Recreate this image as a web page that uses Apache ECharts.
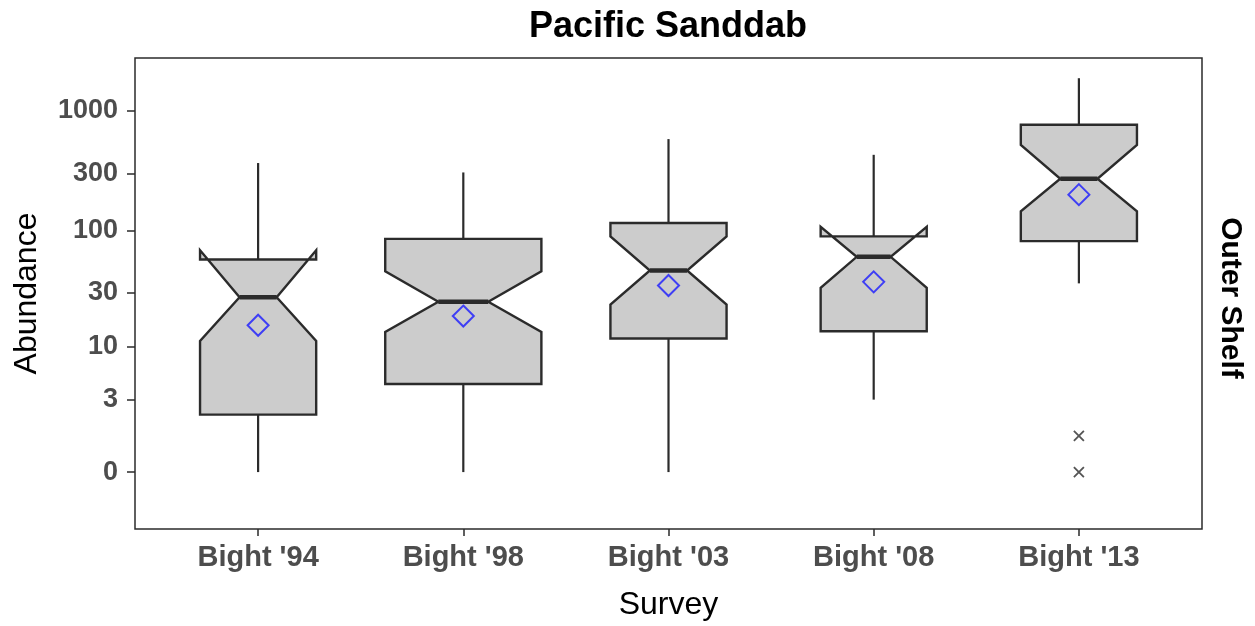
<!DOCTYPE html>
<html><head><meta charset="utf-8">
<script src="https://cdn.jsdelivr.net/npm/echarts@6/dist/echarts.min.js"></script>
<style>html,body{margin:0;padding:0;background:#fff}#c{width:1255px;height:626px}</style>
</head><body><div id="c"></div>
<script>
// ---- data (abundance, original units; axis is log10(x+1)) ----
const surveys = ["Bight '94", "Bight '98", "Bight '03", "Bight '08", "Bight '13"];
const whiskerLow = [0, 0, 0, 3, 36];
const q1 = [2.0, 4.4, 11.9, 13.8, 82];
const notchLow = [11.3, 13.6, 23.7, 33, 146];
const median = [27.4, 25, 46.3, 60.5, 273];
const notchHigh = [68.7, 45.7, 90, 108, 523];
const q3 = [57.4, 85.7, 116.6, 90, 768];
const whiskerHigh = [369, 308, 584, 432, 1874];
const means = [15.6, 18.8, 34.5, 37.1, 201];
const relBoxWidth = [0.566, 0.761, 0.566, 0.517, 0.566]; // variable width (sample size)
const outlierSurvey = [5, 5];
const outlierValue = [1, 0];
const yTickLabels = [0, 3, 10, 30, 100, 300, 1000];

const tf = v => Math.log10(v + 1);
const yTickVals = yTickLabels.map(tf);
const xTickVals = surveys.map((s, i) => i + 1);

const boxData = surveys.map((s, i) => [i + 1, tf(whiskerLow[i]), tf(q1[i]), tf(notchLow[i]), tf(median[i]),
  tf(notchHigh[i]), tf(q3[i]), tf(whiskerHigh[i]), relBoxWidth[i]]);
const meanData = surveys.map((s, i) => [i + 1, tf(means[i])]);
const outData = outlierSurvey.map((s, i) => [s, tf(outlierValue[i])]);

const STROKE = '#2b2b2b';
const chart = echarts.init(document.getElementById('c'), null, {renderer: 'canvas'});
chart.setOption({
  backgroundColor: '#ffffff',
  animation: false,
  grid: {left: 135, right: 53, top: 58, bottom: 96, show: true, borderColor: STROKE, borderWidth: 1.5, backgroundColor: '#fff'},
  xAxis: {
    type: 'value', min: 0.4, max: 5.6,
    name: 'Survey', nameLocation: 'middle', nameGap: 60,
    nameTextStyle: {fontSize: 32, color: '#000', fontFamily: 'Liberation Sans'},
    axisLine: {show: false, onZero: false},
    splitLine: {show: false},
    axisTick: {show: true, customValues: xTickVals, length: 7, lineStyle: {color: STROKE, width: 1.5}},
    axisLabel: {customValues: xTickVals, formatter: v => surveys[Math.round(v) - 1] || '',
      fontSize: 29, fontWeight: 'bold', color: '#4D4D4D', fontFamily: 'Liberation Sans', margin: 14}
  },
  yAxis: {
    type: 'value', min: -0.473, max: 3.441,
    name: 'Abundance', nameLocation: 'middle', nameGap: 92,
    nameTextStyle: {fontSize: 32, color: '#000', fontFamily: 'Liberation Sans'},
    axisLine: {show: false, onZero: false},
    splitLine: {show: false},
    axisTick: {show: true, customValues: yTickVals, length: 8, lineStyle: {color: STROKE, width: 1.5}},
    axisLabel: {customValues: yTickVals, formatter: v => {
        const i = yTickVals.findIndex(t => Math.abs(t - v) < 1e-6);
        return i >= 0 ? String(yTickLabels[i]) : '';
      },
      fontSize: 27, fontWeight: 'bold', color: '#4D4D4D', fontFamily: 'Liberation Sans', margin: 17}
  },
  graphic: [
    {type: 'text', x: 668, y: 27, style: {text: 'Pacific Sanddab', fontSize: 36, fontWeight: 'bold',
      fontFamily: 'Liberation Sans', fill: '#000', align: 'center', verticalAlign: 'middle'}},
    {type: 'text', x: 1230, y: 298, rotation: -Math.PI / 2, style: {text: 'Outer Shelf', fontSize: 30, fontWeight: 'bold',
      fontFamily: 'Liberation Sans', fill: '#000', align: 'center', verticalAlign: 'middle'}}
  ],
  series: [
    {
      type: 'custom', data: boxData, z: 2,
      renderItem: (params, api) => {
        const x = api.value(0);
        const cx = api.coord([x, 0])[0];
        const hw = api.size([api.value(8), 0])[0] / 2;
        const nw = hw * 0.32;
        const y = k => api.coord([x, api.value(k)])[1];
        const yWL = y(1), yQ1 = y(2), yNL = y(3), yMed = y(4), yNU = y(5), yQ3 = y(6), yWH = y(7);
        const pts = [[cx - hw, yQ3], [cx - hw, yNU], [cx - nw, yMed], [cx - hw, yNL], [cx - hw, yQ1],
          [cx + hw, yQ1], [cx + hw, yNL], [cx + nw, yMed], [cx + hw, yNU], [cx + hw, yQ3]];
        return {type: 'group', children: [
          {type: 'line', shape: {x1: cx, y1: yQ3, x2: cx, y2: yWH}, style: {stroke: STROKE, lineWidth: 2.2}},
          {type: 'line', shape: {x1: cx, y1: yQ1, x2: cx, y2: yWL}, style: {stroke: STROKE, lineWidth: 2.2}},
          {type: 'polygon', shape: {points: pts}, style: {fill: '#CCCCCC', stroke: STROKE, lineWidth: 2.4, lineJoin: 'miter'}},
          {type: 'line', shape: {x1: cx - nw, y1: yMed, x2: cx + nw, y2: yMed}, style: {stroke: STROKE, lineWidth: 4.5}}
        ]};
      }
    },
    {
      type: 'scatter', data: meanData, z: 5, symbol: 'diamond', symbolSize: 21,
      itemStyle: {color: 'transparent', borderColor: '#1a1aff', borderWidth: 2}
    },
    {
      type: 'scatter', data: outData, z: 5, symbol: 'path://M0,0L10,10M10,0L0,10', symbolSize: 10,
      itemStyle: {color: 'transparent', borderColor: STROKE, borderWidth: 1.8}
    }
  ]
});
</script>
</body></html>
